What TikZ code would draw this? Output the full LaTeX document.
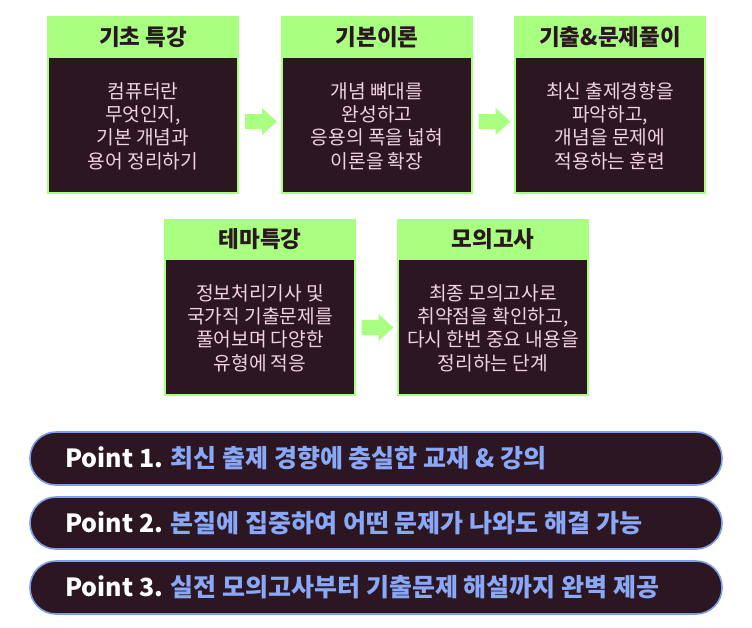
\documentclass[tikz,border=0pt]{standalone}
\usepackage{fontspec}
\setmainfont{Noto Sans CJK KR}
\definecolor{hdrgreen}{HTML}{A8FF80}
\definecolor{darkbody}{HTML}{2C1622}
\definecolor{pinktext}{HTML}{F2D2E2}
\definecolor{bluetext}{HTML}{8AA8F8}
\definecolor{blueline}{HTML}{7E9CF0}
\tikzset{
  hdrbox/.style={rectangle, draw=hdrgreen, line width=1.2pt, fill=hdrgreen, minimum width=190pt, minimum height=40pt, inner sep=0pt, text=darkbody, font=\fontsize{22.5pt}{26pt}\selectfont\bfseries},
  bodybox/.style={rectangle, draw=hdrgreen, line width=1.2pt, fill=darkbody, minimum width=190pt, minimum height=136pt, inner sep=0pt},
  bodytext/.style={text=pinktext, align=center, font=\fontsize{19.2pt}{23.3pt}\selectfont, inner sep=0pt},
  greenarrow/.style={fill=hdrgreen},
  pill/.style={rectangle, rounded corners=26pt, draw=blueline, line width=1.6pt, fill=darkbody, minimum width=692pt, inner sep=0pt},
  pilltext/.style={anchor=west, inner sep=0pt, font=\fontsize{25pt}{28pt}\selectfont\bfseries}
}
\newcommand\blockarrow[1]{\fill[greenarrow, shift={(#1)}] (-16,-7.5) -- (1,-7.5) -- (1,-13.5) -- (16,0) -- (1,13.5) -- (1,7.5) -- (-16,7.5) -- cycle;}
\begin{document}
\begin{tikzpicture}[x=1pt,y=-1pt]
\useasboundingbox (0,0) rectangle (752,627);
% row 1
\node[bodybox] (b1) at (143,125) {};
\node[hdrbox] (h1) at (143,37) {기초 특강};
\node[bodytext] (t1) at (143,126) {컴퓨터란\\무엇인지,\\기본 개념과\\용어 정리하기};
\node[bodybox] (b2) at (377,125) {};
\node[hdrbox] (h2) at (377,37) {기본이론};
\node[bodytext] (t2) at (377,126) {개념 뼈대를\\완성하고\\응용의 폭을 넓혀\\이론을 확장};
\node[bodybox] (b3) at (610,125) {};
\node[hdrbox] (h3) at (610,37) {기출\&문제풀이};
\node[bodytext] (t3) at (610,126) {최신 출제경향을\\파악하고,\\개념을 문제에\\적용하는 훈련};
\coordinate (a1) at (261,121.5);
\coordinate (a2) at (494.5,121.5);
\blockarrow{a1}
\blockarrow{a2}
% row 2
\node[bodybox] (b4) at (260,327) {};
\node[hdrbox, minimum height=39pt] (h4) at (260,239.5) {테마특강};
\node[bodytext] (t4) at (260,328) {정보처리기사 및\\국가직 기출문제를\\풀어보며 다양한\\유형에 적응};
\node[bodybox] (b5) at (493,327) {};
\node[hdrbox, minimum height=39pt] (h5) at (493,239.5) {모의고사};
\node[bodytext] (t5) at (493,328) {최종 모의고사로\\취약점을 확인하고,\\다시 한번 중요 내용을\\정리하는 단계};
\coordinate (a3) at (377.5,327.5);
\blockarrow{a3}
% points
\node[pill, minimum height=53pt] (p1) at (376,458.5) {};
\node[pilltext] (q1) at (65,458.5) {\textcolor{white}{Point 1.} \textcolor{bluetext}{최신 출제 경향에 충실한 교재 \& 강의}};
\node[pill, minimum height=52pt] (p2) at (376,523) {};
\node[pilltext] (q2) at (65,523) {\textcolor{white}{Point 2.} \textcolor{bluetext}{본질에 집중하여 어떤 문제가 나와도 해결 가능}};
\node[pill, minimum height=53pt] (p3) at (376,587.5) {};
\node[pilltext] (q3) at (65,587.5) {\textcolor{white}{Point 3.} \textcolor{bluetext}{실전 모의고사부터 기출문제 해설까지 완벽 제공}};
\end{tikzpicture}
\end{document}
